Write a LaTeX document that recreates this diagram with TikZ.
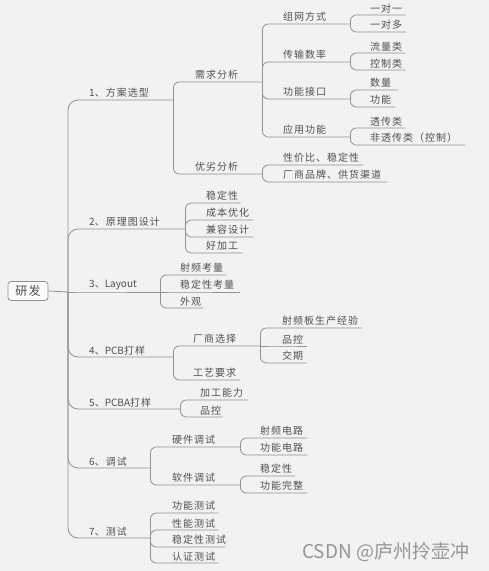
\documentclass[tikz,border=0pt]{standalone}
\usepackage{fontspec}
\newfontfamily\cjk[LetterSpace=10]{Noto Sans CJK SC}
\newfontfamily\wmfont{Noto Sans CJK SC}
\definecolor{bg}{RGB}{242,242,242}
\definecolor{tx}{RGB}{80,80,80}
\definecolor{lnc}{RGB}{145,145,145}
\definecolor{wm}{RGB}{150,150,150}
\newcommand\tb[2]{\makebox[#1pt][l]{#2}}
\newcommand\la[1]{{\wmfont #1}}
\begin{document}
\begin{tikzpicture}[x=1pt,y=-1pt,
  tp/.style={anchor=south west, inner xsep=0pt, inner ysep=2pt,
    font=\cjk\fontsize{10}{12}\selectfont, text=tx},
  cn/.style={draw=lnc, line width=0.8pt, rounded corners=6pt},
  trunk/.style={cn, rounded corners=10pt},
  rootbox/.style={draw=lnc, line width=0.8pt, rounded corners=3pt, fill=white!60!bg,
    minimum width=40pt, minimum height=19pt, inner sep=0pt,
    font=\cjk\fontsize{12}{14}\selectfont, text=tx}]
\fill[bg] (0,0) rectangle (489,571);
\useasboundingbox (0,0) rectangle (489,571);

% root
\node[rootbox] (r) at (28,291) {研发};
\coordinate (J) at (68,292);
\draw[cn] (r.east) -- (J);

% level 1
\node[tp] (n1) at (89,100) {\tb{84}{\la{1}、方案选型}};
\node[tp] (n2) at (89,229) {\tb{96}{\la{2}、原理图设计}};
\node[tp] (n3) at (89,292) {\tb{71}{\la{3}、\la{Layout}}};
\node[tp] (n4) at (89,357) {\tb{84}{\la{4}、\la{PCB}打样}};
\node[tp] (n5) at (89,409) {\tb{91}{\la{5}、\la{PCBA}打样}};
\node[tp] (n6) at (89,468) {\tb{61}{\la{6}、调试}};
\node[tp] (n7) at (89,538) {\tb{61}{\la{7}、测试}};
\foreach \n in {n1,n2,n4,n5,n6,n7}
  \draw[trunk] (J) |- (\n.south west) -- (\n.south east);
\draw[cn] (J) -- (n3.south west) -- (n3.south east);

% 1 children
\node[tp] (n11) at (195,82) {\tb{67}{需求分析}};
\node[tp] (n12) at (195,174) {\tb{67}{优劣分析}};
\foreach \n in {n11,n12}
  \draw[cn] (n1.south east) |- (\n.south west) -- (\n.south east);

\node[tp] (n111) at (283,24) {\tb{67}{组网方式}};
\node[tp] (n112) at (283,62) {\tb{67}{传输数率}};
\node[tp] (n113) at (283,99) {\tb{67}{功能接口}};
\node[tp] (n114) at (283,137) {\tb{67}{应用功能}};
\foreach \n in {n111,n112,n113,n114}
  \draw[cn] (n11.south east) |- (\n.south west) -- (\n.south east);

\node[tp] (a1) at (370,15) {\tb{35}{一对一}};
\node[tp] (a2) at (370,32) {\tb{36}{一对多}};
\foreach \n in {a1,a2}
  \draw[cn] (n111.south east) |- (\n.south west) -- (\n.south east);
\node[tp] (b1) at (370,53) {\tb{35}{流量类}};
\node[tp] (b2) at (370,70) {\tb{35}{控制类}};
\foreach \n in {b1,b2}
  \draw[cn] (n112.south east) |- (\n.south west) -- (\n.south east);
\node[tp] (c1) at (370,90) {\tb{28}{数量}};
\node[tp] (c2) at (370,107) {\tb{25}{功能}};
\foreach \n in {c1,c2}
  \draw[cn] (n113.south east) |- (\n.south west) -- (\n.south east);
\node[tp] (d1) at (370,128) {\tb{35}{透传类}};
\node[tp] (d2) at (370,145) {\tb{95}{非透传类（控制）}};
\foreach \n in {d1,d2}
  \draw[cn] (n114.south east) |- (\n.south west) -- (\n.south east);

\node[tp] (e1) at (283,165) {\tb{80}{性价比、稳定性}};
\node[tp] (e2) at (283,182) {\tb{104}{厂商品牌、供货渠道}};
\foreach \n in {e1,e2}
  \draw[cn] (n12.south east) |- (\n.south west) -- (\n.south east);

% 2 children
\node[tp] (f1) at (206,203) {\tb{34}{稳定性}};
\node[tp] (f2) at (206,220) {\tb{47}{成本优化}};
\node[tp] (f3) at (206,237) {\tb{47}{兼容设计}};
\node[tp] (f4) at (206,253) {\tb{36}{好加工}};
\foreach \n in {f1,f2,f3,f4}
  \draw[cn] (n2.south east) |- (\n.south west) -- (\n.south east);

% 3 children
\node[tp] (g1) at (180,275) {\tb{46}{射频考量}};
\node[tp] (g2) at (180,292) {\tb{60}{稳定性考量}};
\node[tp] (g3) at (180,308) {\tb{23}{外观}};
\foreach \n in {g1,g3}
  \draw[cn] (n3.south east) |- (\n.south west) -- (\n.south east);
\draw[cn] (n3.south east) -- (g2.south west) -- (g2.south east);

% 4 children
\node[tp] (h1) at (193,346) {\tb{67}{厂商选择}};
\node[tp] (h2) at (193,380) {\tb{47}{工艺要求}};
\foreach \n in {h1,h2}
  \draw[cn] (n4.south east) |- (\n.south west) -- (\n.south east);
\node[tp] (i1) at (282,328) {\tb{80}{射频板生产经验}};
\node[tp] (i2) at (282,346) {\tb{25}{品控}};
\node[tp] (i3) at (282,363) {\tb{24}{交期}};
\foreach \n in {i1,i3}
  \draw[cn] (h1.south east) |- (\n.south west) -- (\n.south east);
\draw[cn] (h1.south east) -- (i2.south west) -- (i2.south east);

% 5 children
\node[tp] (j1) at (200,400) {\tb{48}{加工能力}};
\node[tp] (j2) at (200,417) {\tb{22}{品控}};
\foreach \n in {j1,j2}
  \draw[cn] (n5.south east) |- (\n.south west) -- (\n.south east);

% 6 children
\node[tp] (k1) at (172,447) {\tb{68}{硬件调试}};
\node[tp] (k2) at (172,485) {\tb{68}{软件调试}};
\foreach \n in {k1,k2}
  \draw[cn] (n6.south east) |- (\n.south west) -- (\n.south east);
\node[tp] (l1) at (260,438) {\tb{47}{射频电路}};
\node[tp] (l2) at (260,455) {\tb{47}{功能电路}};
\foreach \n in {l1,l2}
  \draw[cn] (k1.south east) |- (\n.south west) -- (\n.south east);
\node[tp] (m1) at (260,476) {\tb{35}{稳定性}};
\node[tp] (m2) at (260,493) {\tb{47}{功能完整}};
\foreach \n in {m1,m2}
  \draw[cn] (k2.south east) |- (\n.south west) -- (\n.south east);

% 7 children
\node[tp] (o1) at (172,513) {\tb{46}{功能测试}};
\node[tp] (o2) at (172,530) {\tb{46}{性能测试}};
\node[tp] (o3) at (172,547) {\tb{53}{稳定性测试}};
\node[tp] (o4) at (172,563) {\tb{46}{认证测试}};
\foreach \n in {o1,o2,o3,o4}
  \draw[cn] (n7.south east) |- (\n.south west) -- (\n.south east);

% watermark
\node[anchor=west, inner sep=0pt, text=wm, font=\wmfont\fontsize{19}{21}\selectfont] (wmk) at (302,552) {CSDN @庐州拎壶冲};
\end{tikzpicture}
\end{document}
